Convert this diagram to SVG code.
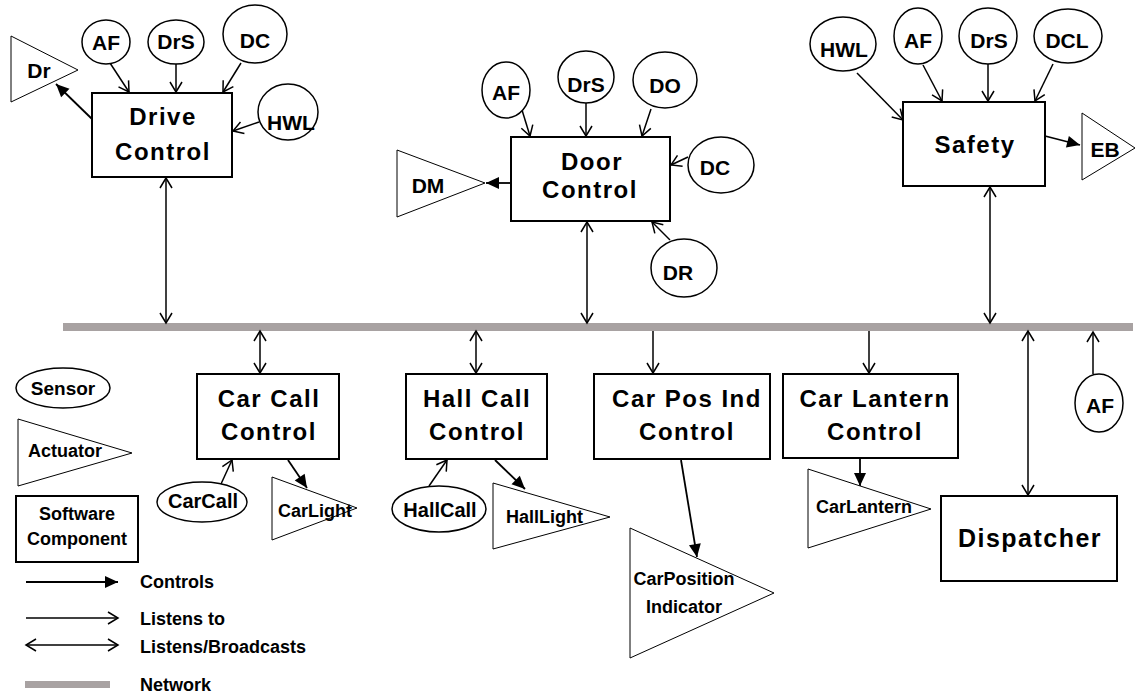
<svg xmlns="http://www.w3.org/2000/svg" width="1135" height="693" viewBox="0 0 1135 693">
<style>
text{font-family:"Liberation Sans",Arial,sans-serif;font-weight:bold;fill:#000}
.box{fill:#fff;stroke:#000;stroke-width:2}
.sen{fill:#fff;stroke:#000;stroke-width:1.5}
.act{fill:#fff;stroke:#000;stroke-width:1}
.big{font-size:24px;letter-spacing:1.5px;text-anchor:middle}
.s{font-size:21px;text-anchor:middle}
.m{font-size:18px}
.c{text-anchor:middle}
.lis{stroke:#000;stroke-width:1.5;fill:none;marker-end:url(#open)}
.bi{stroke:#000;stroke-width:1.5;fill:none;marker-end:url(#open);marker-start:url(#open)}
.ctl{stroke:#000;stroke-width:1.8;fill:none;marker-end:url(#fill)}
.net{fill:#a8a2a2}
</style>
<defs>
<marker id="open" viewBox="-12 -8 14 16" refX="0" refY="0" markerWidth="14" markerHeight="16" markerUnits="userSpaceOnUse" orient="auto-start-reverse">
<path d="M-10,-6 L0,0 L-10,6" fill="none" stroke="#000" stroke-width="1.5"/>
</marker>
<marker id="fill" viewBox="-14 -8 15 16" refX="0" refY="0" markerWidth="15" markerHeight="16" markerUnits="userSpaceOnUse" orient="auto">
<path d="M-13,-6 L0,0 L-13,6 Z" fill="#000"/>
</marker>
</defs>
<rect width="1135" height="693" fill="#fff"/>
<g id="network"><rect class="net" x="63" y="323" width="1070" height="8"/></g>

<g id="connectors">
<line class="lis" x1="110" y1="63" x2="129" y2="92"/>
<line class="lis" x1="176" y1="64" x2="176" y2="92"/>
<line class="lis" x1="241" y1="63" x2="223" y2="92"/>
<line class="lis" x1="259" y1="122" x2="233" y2="131"/>
<line class="ctl" x1="92" y1="119" x2="56" y2="84"/>
<line class="bi" x1="166" y1="178" x2="166" y2="323"/>

<line class="lis" x1="522" y1="110" x2="530" y2="136"/>
<line class="lis" x1="586" y1="103" x2="586" y2="136"/>
<line class="lis" x1="651" y1="109" x2="642" y2="136"/>
<line class="lis" x1="688" y1="157" x2="671" y2="165"/>
<line class="lis" x1="670" y1="240" x2="652" y2="222"/>
<line class="ctl" x1="511" y1="183" x2="486" y2="183"/>
<line class="bi" x1="587" y1="222" x2="587" y2="323"/>

<line class="lis" x1="857" y1="73" x2="903" y2="120"/>
<line class="lis" x1="923" y1="65" x2="942" y2="101"/>
<line class="lis" x1="988" y1="64" x2="988" y2="101"/>
<line class="lis" x1="1053" y1="64" x2="1035" y2="101"/>
<line class="ctl" x1="1045" y1="136" x2="1080" y2="145"/>
<line class="bi" x1="990" y1="187" x2="990" y2="323"/>

<line class="bi" x1="260" y1="331" x2="260" y2="373"/>
<line class="lis" x1="221" y1="484" x2="232" y2="460"/>
<line class="ctl" x1="288" y1="460" x2="307" y2="488"/>

<line class="bi" x1="476" y1="331" x2="476" y2="373"/>
<line class="lis" x1="429" y1="486" x2="447" y2="460"/>
<line class="ctl" x1="495" y1="460" x2="525" y2="489"/>

<line class="lis" x1="653" y1="331" x2="653" y2="373"/>
<line class="ctl" x1="681" y1="460" x2="697" y2="557"/>

<line class="lis" x1="869" y1="331" x2="869" y2="373"/>
<line class="ctl" x1="860" y1="459" x2="860" y2="486"/>

<line class="bi" x1="1028" y1="331" x2="1028" y2="495"/>
<line class="lis" x1="1093" y1="374" x2="1093" y2="332"/>
</g>

<g id="drive-control"><rect class="box" x="92" y="93" width="140" height="84"/><text class="big" x="163" y="125">Drive</text><text class="big" x="163" y="160">Control</text></g>
<g id="drive-af"><ellipse class="sen" cx="106" cy="42" rx="24" ry="22"/><text class="s" x="106" y="50">AF</text></g>
<g id="drive-drs"><ellipse class="sen" cx="176" cy="42" rx="28" ry="22"/><text class="s" x="176" y="49">DrS</text></g>
<g id="drive-dc"><ellipse class="sen" cx="255" cy="34" rx="32" ry="29"/><text class="s" x="255" y="48">DC</text></g>
<g id="drive-hwl"><ellipse class="sen" cx="288" cy="112" rx="30" ry="28"/><text class="s" x="291" y="130">HWL</text></g>
<g id="drive-dr"><polygon class="act" points="11,36 78,70 11,102"/><text class="s" x="39" y="78">Dr</text></g>

<g id="door-control"><rect class="box" x="511" y="137" width="159" height="84"/><text class="big" x="592" y="170">Door</text><text class="big" x="590" y="198">Control</text></g>
<g id="door-af"><ellipse class="sen" cx="506" cy="90" rx="24" ry="28"/><text class="s" x="506" y="100">AF</text></g>
<g id="door-drs"><ellipse class="sen" cx="586" cy="77" rx="28" ry="26"/><text class="s" x="586" y="92">DrS</text></g>
<g id="door-do"><ellipse class="sen" cx="665" cy="80" rx="32" ry="28"/><text class="s" x="665" y="93">DO</text></g>
<g id="door-dc"><ellipse class="sen" cx="721" cy="165" rx="33" ry="28"/><text class="s" x="715" y="175">DC</text></g>
<g id="door-dr"><ellipse class="sen" cx="684" cy="268" rx="33" ry="29"/><text class="s" x="678" y="280">DR</text></g>
<g id="door-dm"><polygon class="act" points="397,150 485,183 397,217"/><text class="s" x="428" y="193">DM</text></g>

<g id="safety"><rect class="box" x="903" y="102" width="142" height="84"/><text class="big" x="975" y="153">Safety</text></g>
<g id="safety-hwl"><ellipse class="sen" cx="843" cy="44" rx="33" ry="27"/><text class="s" x="844" y="57">HWL</text></g>
<g id="safety-af"><ellipse class="sen" cx="918" cy="36" rx="24" ry="28"/><text class="s" x="918" y="48">AF</text></g>
<g id="safety-drs"><ellipse class="sen" cx="988" cy="36" rx="29" ry="28"/><text class="s" x="989" y="48">DrS</text></g>
<g id="safety-dcl"><ellipse class="sen" cx="1068" cy="36" rx="34" ry="27"/><text class="s" x="1067" y="48">DCL</text></g>
<g id="safety-eb"><polygon class="act" points="1082,113 1135,148 1082,180"/><text class="s" x="1105" y="157">EB</text></g>

<g id="car-call-control"><rect class="box" x="197" y="374" width="142" height="85"/><text class="big" x="269" y="407">Car Call</text><text class="big" x="269" y="440">Control</text></g>
<g id="carcall"><ellipse class="sen" cx="202" cy="502" rx="45" ry="20"/><text class="c" x="203" y="508" style="font-size:20px">CarCall</text></g>
<g id="carlight"><polygon class="act" points="272,477 357,508 272,540"/><text class="m" x="278" y="517">CarLight</text></g>

<g id="hall-call-control"><rect class="box" x="406" y="374" width="141" height="85"/><text class="big" x="477" y="407">Hall Call</text><text class="big" x="477" y="440">Control</text></g>
<g id="hallcall"><ellipse class="sen" cx="439" cy="509" rx="47" ry="23"/><text class="c" x="440" y="517" style="font-size:20px">HallCall</text></g>
<g id="halllight"><polygon class="act" points="493,483 610,517 493,549"/><text class="m" x="506" y="523">HallLight</text></g>

<g id="car-pos-ind-control"><rect class="box" x="594" y="374" width="176" height="85"/><text class="big" x="687" y="407">Car Pos Ind</text><text class="big" x="687" y="440">Control</text></g>
<g id="carposition-indicator"><polygon class="act" points="630,528 774,593 630,658"/><text class="m c" x="684" y="585">CarPosition</text><text class="m c" x="684" y="613">Indicator</text></g>

<g id="car-lantern-control"><rect class="box" x="783" y="374" width="175" height="84"/><text class="big" x="875" y="407">Car Lantern</text><text class="big" x="875" y="440">Control</text></g>
<g id="carlantern"><polygon class="act" points="808,469 931,509 808,548"/><text class="m" x="816" y="513">CarLantern</text></g>

<g id="dispatcher"><rect class="box" x="941" y="496" width="176" height="85"/><text class="big" x="1030" y="547" style="font-size:25px">Dispatcher</text></g>
<g id="net-af"><ellipse class="sen" cx="1099" cy="403" rx="24" ry="29"/><text class="s" x="1100" y="413">AF</text></g>

<g id="legend">
<g id="legend-sensor"><ellipse class="sen" cx="63" cy="388" rx="47" ry="20"/><text class="c" x="63" y="395" style="font-size:19px">Sensor</text></g>
<g id="legend-actuator"><polygon class="act" points="18,419 132,453 18,486"/><text class="m" x="28" y="457">Actuator</text></g>
<g id="legend-software"><rect class="box" x="16" y="496" width="122" height="66"/><text class="m c" x="77" y="520">Software</text><text class="m c" x="77" y="545">Component</text></g>
<line class="ctl" x1="26" y1="582" x2="118" y2="582"/><text class="m" x="140" y="588">Controls</text>
<line class="lis" x1="26" y1="618" x2="118" y2="618"/><text class="m" x="140" y="625">Listens to</text>
<line class="bi" x1="26" y1="645" x2="118" y2="645"/><text class="m" x="140" y="653">Listens/Broadcasts</text>
<rect class="net" x="25" y="681" width="85" height="7"/><text class="m" x="140" y="691">Network</text>
</g>
</svg>
